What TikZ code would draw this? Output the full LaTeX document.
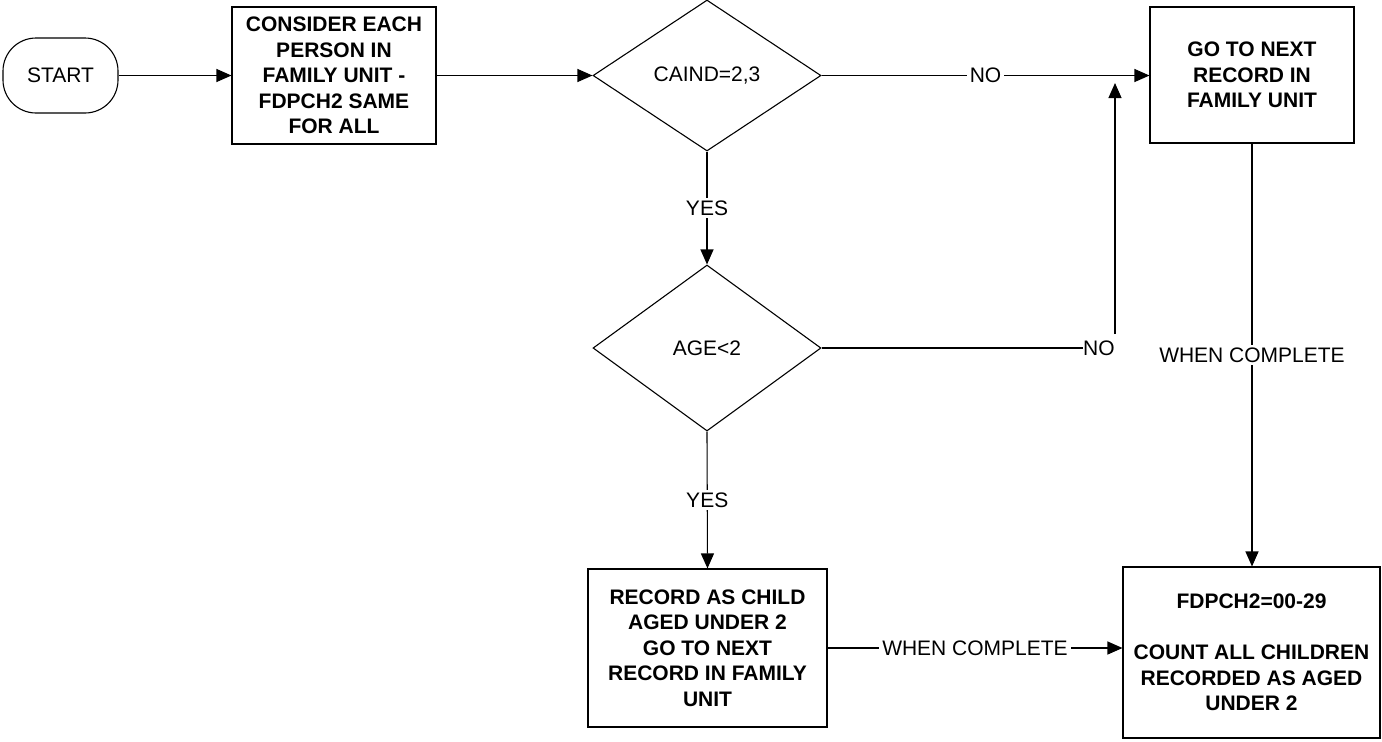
\documentclass[tikz,border=0pt]{standalone}
\usepackage{fontspec}
\setmainfont{Liberation Sans}
\usetikzlibrary{shapes.geometric,arrows.meta}
\begin{document}
\begin{tikzpicture}[x=0.5pt,y=-0.5pt,
  every node/.style={font=\fontsize{10.5}{12.75}\selectfont},
  box/.style={draw, line width=0.55pt, inner sep=0pt, align=center, font=\fontsize{10.5}{12.75}\selectfont\bfseries},
  dec/.style={draw, diamond, line width=0.55pt, inner sep=0pt},
  term/.style={draw, rounded corners=16.5pt, line width=0.55pt, inner sep=0pt},
  lbl/.style={fill=white, inner sep=1.5pt},
  conn/.style={line width=0.55pt},
  arr/.style={conn, -{Triangle[length=7.5pt,width=6.5pt]}}
]
\useasboundingbox (0,0) rectangle (1382,741);

\node[term, minimum width=57.5pt, minimum height=37.5pt] (start) at (60.5,75.5) {START};
\node[box, minimum width=102pt, minimum height=68.5pt] (b1) at (334,75.5) {CONSIDER EACH\\PERSON IN\\FAMILY UNIT -\\FDPCH2 SAME\\FOR ALL};
\node[dec, minimum width=114pt, minimum height=75.5pt] (d1) at (707,75.5) {CAIND=2,3};
\node[box, minimum width=102pt, minimum height=68pt] (b3) at (1252,75) {GO TO NEXT\\RECORD IN\\FAMILY UNIT};
\node[dec, minimum width=114pt, minimum height=83pt] (d2) at (707,348) {AGE<2};
\node[box, minimum width=119.5pt, minimum height=79pt] (rec) at (707.5,648) {RECORD AS CHILD\\AGED UNDER 2\\GO TO NEXT\\RECORD IN FAMILY\\UNIT};
\node[box, minimum width=128.5pt, minimum height=85.5pt] (fdp) at (1251.5,652.5) {FDPCH2=00-29\\[12.75pt]COUNT ALL CHILDREN\\RECORDED AS AGED\\UNDER 2};

\node[inner sep=0pt, anchor=east] (no2) at (1115,348) {NO};
\coordinate (tip) at (1115,83);

\draw[arr] (start.east) -- (b1.west);
\draw[arr] (b1.east) -- (d1.west);
\draw[arr] (d1.east) -- node[lbl]{NO} (d1.east -| b3.west);
\draw[arr] (d1.south) -- node[lbl]{YES} (d2.north);
\draw[conn] (d2.east) -- (no2.west);
\draw[arr] ([yshift=3pt]no2.north east) -- (tip);
\draw[arr] (d2.south) -- node[lbl]{YES} (rec.north);
\draw[arr] (rec.east) -- node[lbl]{WHEN COMPLETE} (rec.east -| fdp.west);
\draw[arr] (b3.south) -- node[lbl]{WHEN COMPLETE} (b3.south |- fdp.north);
\end{tikzpicture}
\end{document}
